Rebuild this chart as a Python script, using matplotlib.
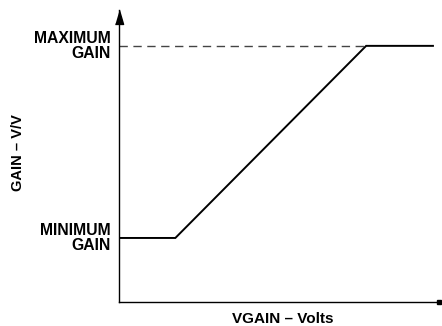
import matplotlib.pyplot as plt

plt.rcParams['font.family'] = ['Liberation Sans', 'DejaVu Sans']

# gain transfer curve breakpoints (arbitrary units)
vgain = [0.0, 0.35, 1.535, 1.95]
gain = [0.25, 0.25, 1.0, 1.0]
gain_min = 0.25
gain_max = 1.0

fig = plt.figure(figsize=(4.42, 3.26), dpi=100)
ax = fig.add_axes([119 / 442, 1 - 302 / 326, 322 / 442, 292 / 326])
ax.set_xlim(0, 2.0)
ax.set_ylim(0, 1.14)

ax.plot(vgain, gain, color='black', lw=1.4, solid_joinstyle='miter')
ax.plot([0, vgain[2]], [gain_max, gain_max], color='#444444', lw=1.0,
        dashes=(6, 4))

for s in ('top', 'right'):
    ax.spines[s].set_visible(False)
ax.spines['left'].set_linewidth(1.0)
ax.spines['bottom'].set_linewidth(1.0)
ax.set_xticks([])
ax.set_yticks([])

# arrow head on the gain axis, square cap on the voltage axis
head = [(-1, -1.7), (1, -1.7), (0, 1.7)]
ax.plot(0, 1.113, marker=head, color='black', markersize=10, clip_on=False)
ax.plot(1.99, 0, marker='s', color='black', markersize=3.2, clip_on=False)

ax.text(-0.05, gain_max, 'MAXIMUM\nGAIN', ha='right', va='center',
        fontsize=11.3, fontweight='bold', linespacing=0.95)
ax.text(-0.05, gain_min, 'MINIMUM\nGAIN', ha='right', va='center',
        fontsize=11.3, fontweight='bold', linespacing=0.95)

fig.text(18 / 442, 1 - 153 / 326, 'GAIN – V/V', rotation=90, ha='center',
         va='center', fontsize=10.5, fontweight='bold')
fig.text(283 / 442, 1 - 319 / 326, 'VGAIN – Volts', ha='center',
         va='center', fontsize=11, fontweight='bold')

fig.savefig('out.png', dpi=100)
